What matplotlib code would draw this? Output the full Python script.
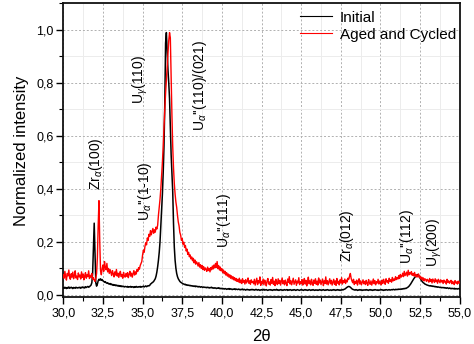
import numpy as np
import matplotlib
matplotlib.use("Agg")
import matplotlib.pyplot as plt
from matplotlib.ticker import MultipleLocator, FuncFormatter

plt.rcParams['font.family'] = ['Liberation Sans', 'DejaVu Sans']
plt.rcParams['mathtext.fontset'] = 'custom'
plt.rcParams['mathtext.rm'] = 'Liberation Sans'
plt.rcParams['mathtext.it'] = 'Liberation Sans:italic'
plt.rcParams['mathtext.bf'] = 'Liberation Sans:bold'

# 2-theta grid: 30.00 .. 55.00 in 0.05 steps (501 points)
two_theta = np.round(np.linspace(30.0, 55.0, 501), 2)

initial = [
    # 30
    0.026, 0.024, 0.028, 0.025, 0.023, 0.027, 0.025, 0.029, 0.024, 0.026, 0.028, 0.025, 0.023, 0.027, 0.026, 0.024, 0.028, 0.026, 0.025, 0.027,
    # 31
    0.026, 0.028, 0.024, 0.027, 0.029, 0.026, 0.028, 0.025, 0.030, 0.027, 0.029, 0.031, 0.028, 0.030, 0.033, 0.036, 0.045, 0.080, 0.170, 0.270,
    # 32
    0.150, 0.045, 0.032, 0.040, 0.052, 0.058, 0.055, 0.060, 0.054, 0.057, 0.052, 0.050, 0.047, 0.049, 0.045, 0.043, 0.045, 0.041, 0.040, 0.042,
    # 33
    0.038, 0.040, 0.036, 0.038, 0.035, 0.037, 0.034, 0.036, 0.033, 0.035, 0.032, 0.034, 0.031, 0.033, 0.030, 0.032, 0.031, 0.029, 0.031, 0.030,
    # 34
    0.029, 0.031, 0.028, 0.030, 0.029, 0.031, 0.028, 0.030, 0.029, 0.027, 0.030, 0.028, 0.031, 0.029, 0.028, 0.030, 0.029, 0.031, 0.028, 0.030,
    # 35
    0.030, 0.032, 0.029, 0.031, 0.033, 0.030, 0.032, 0.034, 0.033, 0.035, 0.040, 0.042, 0.045, 0.047, 0.050, 0.055, 0.060, 0.070, 0.085, 0.105,
    # 36
    0.130, 0.160, 0.200, 0.260, 0.320, 0.380, 0.460, 0.560, 0.720, 0.950, 0.990, 0.920, 0.850, 0.800, 0.740, 0.630, 0.530, 0.460, 0.390, 0.270,
    # 37
    0.180, 0.130, 0.100, 0.080, 0.068, 0.060, 0.055, 0.050, 0.047, 0.045, 0.043, 0.041, 0.040, 0.038, 0.039, 0.036, 0.037, 0.035, 0.036, 0.034,
    # 38
    0.035, 0.033, 0.034, 0.032, 0.033, 0.031, 0.033, 0.030, 0.032, 0.031, 0.029, 0.031, 0.030, 0.028, 0.030, 0.029, 0.027, 0.029, 0.028, 0.027,
    # 39
    0.028, 0.026, 0.028, 0.027, 0.025, 0.027, 0.026, 0.028, 0.025, 0.026, 0.024, 0.026, 0.025, 0.023, 0.025, 0.024, 0.026, 0.023, 0.024, 0.022,
    # 40
    0.024, 0.022, 0.023, 0.021, 0.023, 0.022, 0.020, 0.022, 0.021, 0.023, 0.020, 0.022, 0.021, 0.019, 0.021, 0.020, 0.022, 0.019, 0.021, 0.020,
    # 41
    0.019, 0.021, 0.020, 0.018, 0.020, 0.019, 0.021, 0.018, 0.020, 0.019, 0.017, 0.019, 0.020, 0.018, 0.019, 0.017, 0.019, 0.018, 0.020, 0.018,
    # 42
    0.019, 0.017, 0.018, 0.020, 0.018, 0.017, 0.019, 0.018, 0.016, 0.018, 0.019, 0.017, 0.018, 0.020, 0.017, 0.018, 0.019, 0.017, 0.016, 0.018,
    # 43
    0.018, 0.019, 0.017, 0.018, 0.016, 0.018, 0.019, 0.017, 0.018, 0.020, 0.017, 0.018, 0.016, 0.018, 0.019, 0.017, 0.018, 0.016, 0.018, 0.019,
    # 44
    0.017, 0.018, 0.019, 0.016, 0.018, 0.017, 0.019, 0.018, 0.016, 0.018, 0.017, 0.019, 0.018, 0.016, 0.017, 0.019, 0.018, 0.017, 0.016, 0.018,
    # 45
    0.019, 0.017, 0.018, 0.016, 0.018, 0.019, 0.017, 0.018, 0.016, 0.017, 0.019, 0.018, 0.016, 0.018, 0.017, 0.019, 0.017, 0.016, 0.018, 0.017,
    # 46
    0.018, 0.016, 0.017, 0.019, 0.017, 0.018, 0.016, 0.018, 0.019, 0.017, 0.016, 0.018, 0.017, 0.019, 0.018, 0.016, 0.017, 0.018, 0.016, 0.018,
    # 47
    0.017, 0.019, 0.018, 0.016, 0.018, 0.017, 0.019, 0.017, 0.018, 0.016, 0.018, 0.017, 0.019, 0.018, 0.020, 0.021, 0.023, 0.026, 0.028, 0.030,
    # 48
    0.031, 0.030, 0.028, 0.025, 0.022, 0.020, 0.019, 0.018, 0.017, 0.019, 0.018, 0.016, 0.018, 0.017, 0.019, 0.017, 0.018, 0.016, 0.018, 0.017,
    # 49
    0.018, 0.017, 0.019, 0.017, 0.018, 0.016, 0.018, 0.019, 0.017, 0.018, 0.016, 0.018, 0.017, 0.019, 0.018, 0.017, 0.018, 0.016, 0.018, 0.017,
    # 50
    0.018, 0.019, 0.017, 0.018, 0.016, 0.018, 0.017, 0.019, 0.018, 0.017, 0.018, 0.019, 0.017, 0.018, 0.019, 0.018, 0.020, 0.019, 0.018, 0.020,
    # 51
    0.019, 0.020, 0.019, 0.021, 0.020, 0.021, 0.020, 0.022, 0.021, 0.023, 0.022, 0.024, 0.023, 0.025, 0.027, 0.029, 0.032, 0.036, 0.040, 0.045,
    # 52
    0.050, 0.055, 0.060, 0.064, 0.068, 0.071, 0.074, 0.076, 0.073, 0.068, 0.062, 0.057, 0.052, 0.048, 0.045, 0.043, 0.040, 0.039, 0.037, 0.036,
    # 53
    0.035, 0.034, 0.033, 0.034, 0.032, 0.033, 0.031, 0.032, 0.030, 0.031, 0.029, 0.030, 0.028, 0.029, 0.028, 0.027, 0.028, 0.026, 0.027, 0.026,
    # 54
    0.027, 0.025, 0.026, 0.024, 0.026, 0.025, 0.023, 0.025, 0.024, 0.022, 0.024, 0.023, 0.022, 0.024, 0.021, 0.023, 0.022, 0.021, 0.023, 0.022,
    # 55
    0.021,
]

aged_cycled = [
    # 30
    0.075, 0.062, 0.088, 0.068, 0.055, 0.080, 0.071, 0.093, 0.064, 0.058, 0.079, 0.066, 0.085, 0.060, 0.072, 0.090, 0.063, 0.070, 0.057, 0.082,
    # 31
    0.067, 0.074, 0.059, 0.086, 0.065, 0.078, 0.056, 0.071, 0.083, 0.062, 0.075, 0.068, 0.090, 0.061, 0.073, 0.066, 0.080, 0.058, 0.064, 0.055,
    # 32
    0.050, 0.062, 0.080, 0.140, 0.260, 0.355, 0.200, 0.090, 0.075, 0.098, 0.112, 0.088, 0.125, 0.102, 0.094, 0.118, 0.086, 0.099, 0.080, 0.095,
    # 33
    0.083, 0.072, 0.091, 0.078, 0.067, 0.086, 0.074, 0.095, 0.070, 0.081, 0.065, 0.079, 0.088, 0.068, 0.076, 0.062, 0.084, 0.071, 0.066, 0.080,
    # 34
    0.069, 0.083, 0.064, 0.077, 0.088, 0.070, 0.081, 0.066, 0.079, 0.091, 0.074, 0.086, 0.078, 0.095, 0.088, 0.102, 0.096, 0.110, 0.118, 0.125,
    # 35
    0.150, 0.168, 0.160, 0.182, 0.196, 0.188, 0.214, 0.205, 0.228, 0.220, 0.242, 0.226, 0.238, 0.250, 0.232, 0.245, 0.236, 0.255, 0.248, 0.262,
    # 36
    0.300, 0.330, 0.360, 0.400, 0.450, 0.500, 0.560, 0.630, 0.700, 0.760, 0.810, 0.860, 0.910, 0.960, 0.990, 0.970, 0.820, 0.680, 0.560, 0.480,
    # 37
    0.420, 0.380, 0.350, 0.330, 0.300, 0.275, 0.260, 0.235, 0.225, 0.205, 0.212, 0.190, 0.198, 0.178, 0.186, 0.165, 0.172, 0.152, 0.160, 0.143,
    # 38
    0.150, 0.135, 0.142, 0.128, 0.137, 0.120, 0.131, 0.115, 0.124, 0.118, 0.108, 0.121, 0.104, 0.113, 0.099, 0.110, 0.095, 0.106, 0.092, 0.101,
    # 39
    0.096, 0.088, 0.104, 0.091, 0.099, 0.086, 0.102, 0.094, 0.108, 0.097, 0.112, 0.101, 0.118, 0.103, 0.125, 0.098, 0.109, 0.093, 0.104, 0.090,
    # 40
    0.098, 0.084, 0.093, 0.079, 0.088, 0.074, 0.083, 0.070, 0.078, 0.066, 0.075, 0.062, 0.071, 0.059, 0.068, 0.056, 0.064, 0.053, 0.061, 0.050,
    # 41
    0.058, 0.048, 0.062, 0.045, 0.055, 0.042, 0.060, 0.047, 0.053, 0.040, 0.057, 0.044, 0.051, 0.063, 0.043, 0.052, 0.039, 0.056, 0.046, 0.050,
    # 42
    0.041, 0.058, 0.036, 0.049, 0.062, 0.038, 0.053, 0.044, 0.067, 0.035, 0.050, 0.042, 0.059, 0.037, 0.055, 0.046, 0.033, 0.052, 0.061, 0.040,
    # 43
    0.048, 0.036, 0.057, 0.043, 0.065, 0.039, 0.051, 0.034, 0.058, 0.045, 0.038, 0.060, 0.042, 0.054, 0.036, 0.049, 0.063, 0.041, 0.052, 0.037,
    # 44
    0.055, 0.043, 0.034, 0.059, 0.046, 0.068, 0.040, 0.053, 0.037, 0.050, 0.062, 0.039, 0.047, 0.056, 0.035, 0.051, 0.044, 0.064, 0.038, 0.049,
    # 45
    0.042, 0.057, 0.036, 0.050, 0.061, 0.040, 0.054, 0.033, 0.048, 0.066, 0.041, 0.052, 0.037, 0.058, 0.045, 0.035, 0.055, 0.043, 0.060, 0.039,
    # 46
    0.051, 0.036, 0.063, 0.044, 0.055, 0.038, 0.049, 0.059, 0.034, 0.052, 0.042, 0.067, 0.040, 0.053, 0.037, 0.048, 0.060, 0.041, 0.054, 0.036,
    # 47
    0.047, 0.058, 0.039, 0.052, 0.035, 0.061, 0.043, 0.050, 0.037, 0.056, 0.044, 0.064, 0.040, 0.053, 0.046, 0.059, 0.042, 0.055, 0.048, 0.062,
    # 48
    0.058, 0.070, 0.080, 0.062, 0.052, 0.045, 0.058, 0.038, 0.050, 0.043, 0.055, 0.036, 0.049, 0.060, 0.040, 0.052, 0.037, 0.047, 0.056, 0.041,
    # 49
    0.050, 0.038, 0.054, 0.043, 0.035, 0.057, 0.045, 0.039, 0.052, 0.036, 0.048, 0.059, 0.041, 0.053, 0.037, 0.049, 0.044, 0.058, 0.040, 0.051,
    # 50
    0.045, 0.037, 0.055, 0.042, 0.058, 0.046, 0.039, 0.060, 0.048, 0.053, 0.043, 0.062, 0.050, 0.056, 0.047, 0.065, 0.052, 0.059, 0.054, 0.068,
    # 51
    0.057, 0.064, 0.059, 0.072, 0.061, 0.076, 0.066, 0.070, 0.081, 0.068, 0.088, 0.072, 0.079, 0.085, 0.070, 0.092, 0.075, 0.083, 0.078, 0.087,
    # 52
    0.073, 0.080, 0.071, 0.084, 0.069, 0.076, 0.066, 0.073, 0.078, 0.064, 0.070, 0.059, 0.066, 0.055, 0.063, 0.052, 0.060, 0.057, 0.050, 0.058,
    # 53
    0.054, 0.047, 0.061, 0.050, 0.057, 0.044, 0.059, 0.052, 0.046, 0.060, 0.049, 0.055, 0.043, 0.058, 0.051, 0.045, 0.056, 0.048, 0.053, 0.042,
    # 54
    0.055, 0.047, 0.051, 0.040, 0.058, 0.046, 0.052, 0.043, 0.049, 0.054, 0.041, 0.050, 0.045, 0.038, 0.053, 0.044, 0.048, 0.040, 0.051, 0.043,
    # 55
    0.047,
]

series_labels = ["Initial", "Aged and Cycled"]
series_colors = ["#000000", "#ff0000"]

# peak annotations: (label, 2theta, y of text bottom)
peak_labels = [r"Zr$_{\alpha}$(100)", r"U$_{\gamma}$(110)", r"U$_{\alpha}$''(110)/(021)",
               r"U$_{\alpha}$''(1-10)", r"U$_{\alpha}$''(111)", r"Zr$_{\alpha}$(012)",
               r"U$_{\alpha}$''(112)", r"U$_{\gamma}$(200)"]
peak_x = [32.07, 34.84, 38.62, 35.15, 40.13, 47.88, 51.67, 53.37]
peak_y = [0.395, 0.722, 0.62, 0.28, 0.176, 0.123, 0.117, 0.105]

fig = plt.figure(figsize=(4.74, 3.44), dpi=100)
ax = fig.add_axes([0.1335, 0.1358, 0.8365, 0.8542])

ax.plot(two_theta, initial, color=series_colors[0], lw=1.1, label=series_labels[0], zorder=3)
ax.plot(two_theta, aged_cycled, color=series_colors[1], lw=1.0, label=series_labels[1], zorder=4)

ax.set_xlim(30, 55)
ax.set_ylim(-0.01, 1.1)
ax.xaxis.set_major_locator(MultipleLocator(2.5))
ax.xaxis.set_minor_locator(MultipleLocator(1.25))
ax.yaxis.set_major_locator(MultipleLocator(0.2))
ax.yaxis.set_minor_locator(MultipleLocator(0.1))
fmt = FuncFormatter(lambda v, p: f"{v:.1f}".replace('.', ','))
ax.xaxis.set_major_formatter(fmt)
ax.yaxis.set_major_formatter(fmt)

ax.grid(which='major', color='#b0b0b0', linestyle=(0, (2, 2)), lw=0.7)
ax.grid(which='minor', color='#ececec', linestyle='-', lw=0.7)
ax.set_axisbelow(True)

ax.tick_params(which='major', direction='out', length=5, width=1.0, labelsize=9, pad=2,
               top=False, right=False)
ax.tick_params(which='minor', direction='out', length=3, width=0.8, top=False, right=False)
for s in ax.spines.values():
    s.set_linewidth(1.3)
    s.set_color('#111111')

ax.set_xlabel("2θ", fontsize=12, labelpad=7)
ax.set_ylabel("Normalized intensity", fontsize=12, labelpad=5)

for lab, px, py in zip(peak_labels, peak_x, peak_y):
    ax.text(px, py, lab, rotation=90, ha='center', va='bottom', fontsize=10, zorder=5)

leg = ax.legend(loc='upper left', bbox_to_anchor=(0.597, 0.975), frameon=False,
                fontsize=11, handlelength=2.1, handletextpad=0.5, labelspacing=0.2,
                borderaxespad=0, borderpad=0)
for l in leg.get_lines():
    l.set_linewidth(0.8)

fig.savefig("out.png", dpi=100)
